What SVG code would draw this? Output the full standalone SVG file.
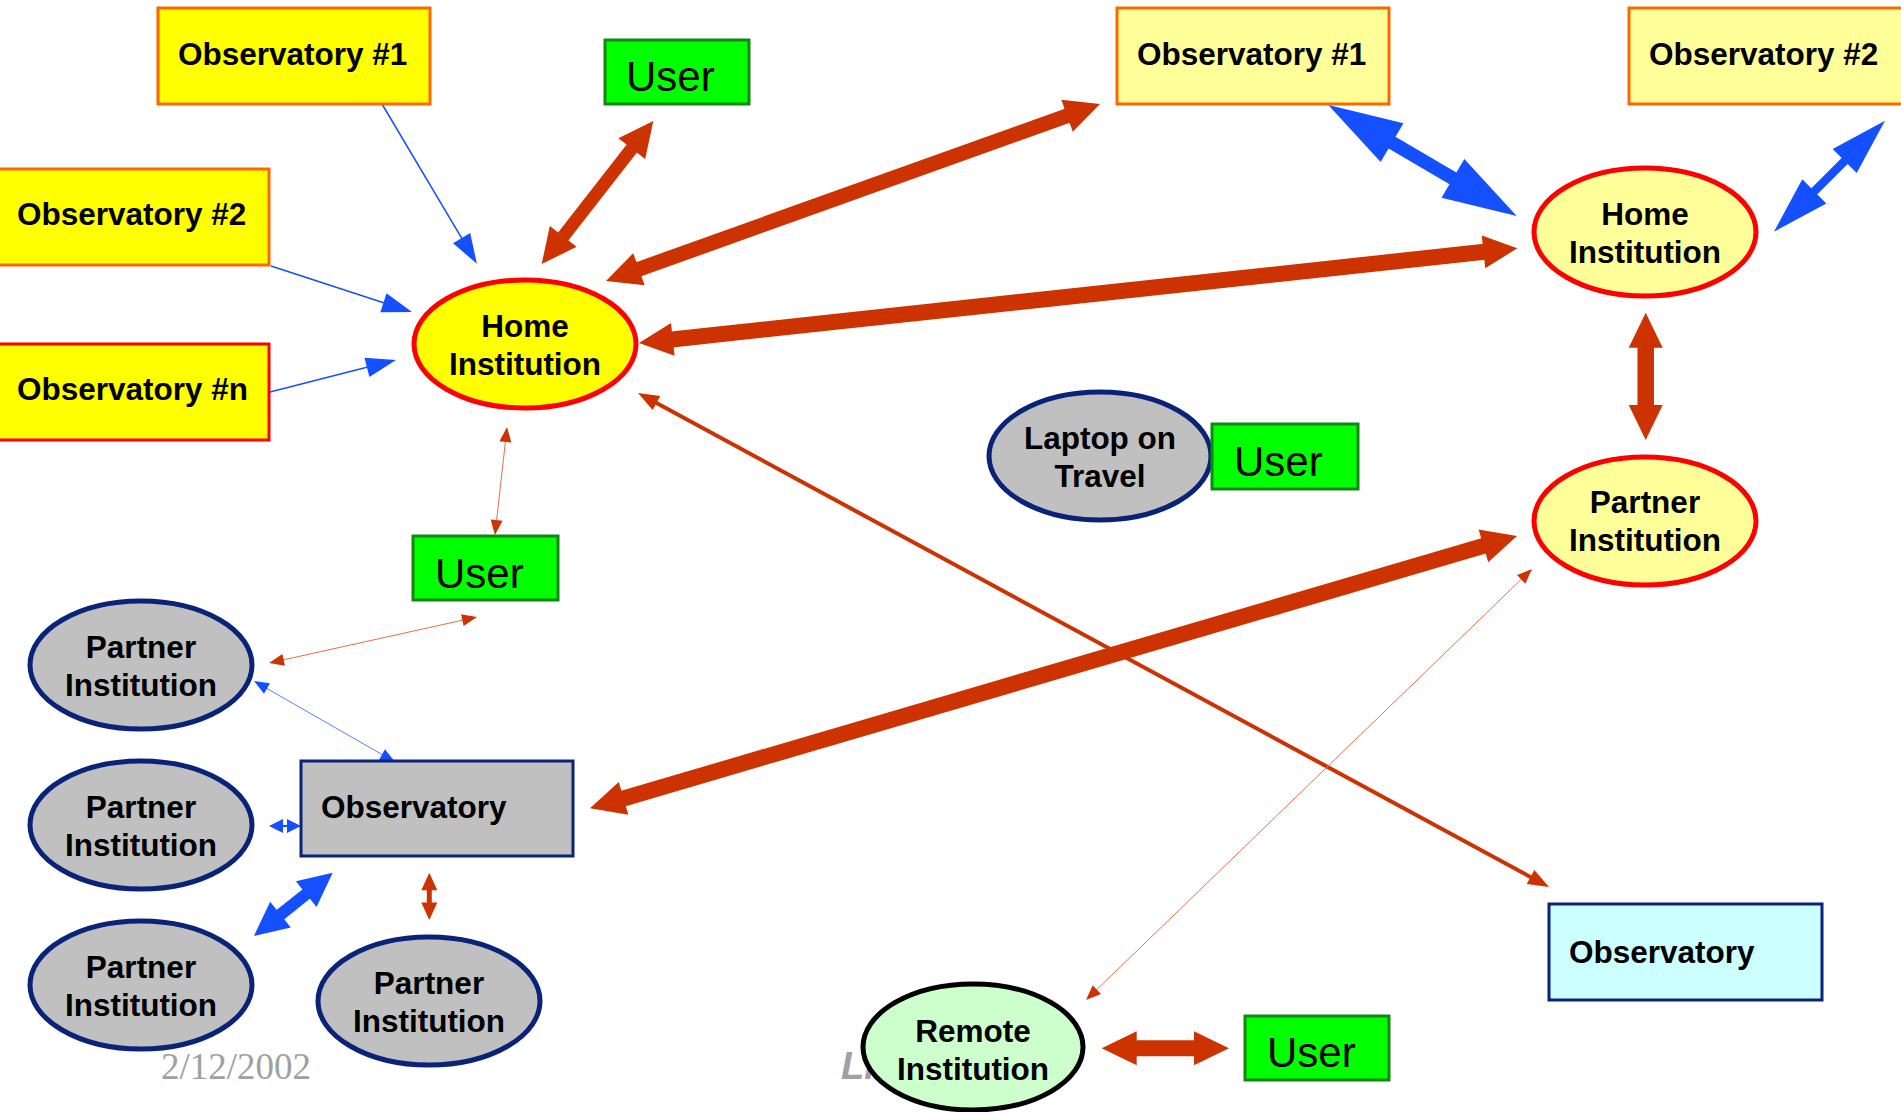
<svg xmlns="http://www.w3.org/2000/svg" width="1901" height="1112" viewBox="0 0 1901 1112">
  <style>
    .lbl { font-family: "Liberation Sans", Arial, sans-serif; font-weight: bold; font-size: 31.5px; fill: #000; }
    .usr { font-family: "Liberation Sans", Arial, sans-serif; font-size: 42px; fill: #000; }
    .obsY { fill: #FFFF00; stroke: #FF6600; stroke-width: 3; }
    .obsL { fill: #FFFF99; stroke: #FF6600; stroke-width: 3; }
    .user { fill: #00FF00; stroke: #118811; stroke-width: 3; }
    .homeY { fill: #FFFF00; stroke: #FF0000; stroke-width: 5; }
    .homeL { fill: #FFFF99; stroke: #FF0000; stroke-width: 5; }
    .grey { fill: #C0C0C0; stroke: #0A2277; stroke-width: 5; }
    .greyR { fill: #C0C0C0; stroke: #0A2277; stroke-width: 3; }
    .red { stroke: #CC3300; fill: none; }
    .redT { stroke: #E8704A; fill: none; }
    .blue { stroke: #1450FF; fill: none; }
    .blueT { stroke: #5A80FF; fill: none; }
  </style>
  <defs>
    <!-- arrowheads: base at the vertex, tip pointing forward -->
    <marker id="bS" markerUnits="userSpaceOnUse" orient="auto-start-reverse" overflow="visible" refX="0" refY="0" markerWidth="1" markerHeight="1"><path d="M-1,-10 L29,0 L-1,10 z" fill="#1450FF"/></marker>
    <marker id="bT" markerUnits="userSpaceOnUse" orient="auto-start-reverse" overflow="visible" refX="0" refY="0" markerWidth="1" markerHeight="1"><path d="M-1,-6 L14,0 L-1,6 z" fill="#1450FF"/></marker>
    <marker id="bT2" markerUnits="userSpaceOnUse" orient="auto-start-reverse" overflow="visible" refX="0" refY="0" markerWidth="1" markerHeight="1"><path d="M0,-7 L14,0 L0,7 z" fill="#1450FF"/></marker>
    <marker id="bL" markerUnits="userSpaceOnUse" orient="auto-start-reverse" overflow="visible" refX="0" refY="0" markerWidth="1" markerHeight="1"><path d="M-1,-16.5 L33,0 L-1,16.5 z" fill="#1450FF"/></marker>
    <marker id="bXL" markerUnits="userSpaceOnUse" orient="auto-start-reverse" overflow="visible" refX="0" refY="0" markerWidth="1" markerHeight="1"><path d="M-1,-22.5 L73,0 L-1,22.5 z" fill="#1450FF"/></marker>
    <marker id="bM" markerUnits="userSpaceOnUse" orient="auto-start-reverse" overflow="visible" refX="0" refY="0" markerWidth="1" markerHeight="1"><path d="M-1,-17 L56,0 L-1,17 z" fill="#1450FF"/></marker>
    <marker id="rT" markerUnits="userSpaceOnUse" orient="auto-start-reverse" overflow="visible" refX="0" refY="0" markerWidth="1" markerHeight="1"><path d="M-1,-6 L14,0 L-1,6 z" fill="#CC3300"/></marker>
    <marker id="rT2" markerUnits="userSpaceOnUse" orient="auto-start-reverse" overflow="visible" refX="0" refY="0" markerWidth="1" markerHeight="1"><path d="M-1,-8 L16.5,0 L-1,8 z" fill="#CC3300"/></marker>
    <marker id="rM" markerUnits="userSpaceOnUse" orient="auto-start-reverse" overflow="visible" refX="0" refY="0" markerWidth="1" markerHeight="1"><path d="M-1,-8 L20,0 L-1,8 z" fill="#CC3300"/></marker>
    <marker id="rL" markerUnits="userSpaceOnUse" orient="auto-start-reverse" overflow="visible" refX="0" refY="0" markerWidth="1" markerHeight="1"><path d="M-1,-17 L34,0 L-1,17 z" fill="#CC3300"/></marker>
    <marker id="rW" markerUnits="userSpaceOnUse" orient="auto-start-reverse" overflow="visible" refX="0" refY="0" markerWidth="1" markerHeight="1"><path d="M-1,-16.5 L33,0 L-1,16.5 z" fill="#CC3300"/></marker>
  </defs>

  <rect width="1901" height="1112" fill="#FFFFFF"/>

  <!-- footer texts, partly hidden by the nodes drawn later -->
  <text x="161" y="1079" font-family="'Liberation Serif', 'Times New Roman', serif" font-size="37" fill="#A0A0A0">2/12/2002</text>
  <text x="841" y="1079" font-family="'Liberation Sans', Arial, sans-serif" font-weight="bold" font-style="italic" font-size="38" fill="#A0A0A0">Li</text>

  <g id="connectors">
    <!-- observatories feeding the home institution -->
    <line class="blue" stroke-width="1.5" x1="382" y1="104" x2="462.1" y2="238.9" marker-end="url(#bS)"/>
    <line class="blue" stroke-width="1.5" x1="271" y1="266" x2="384.4" y2="303" marker-end="url(#bS)"/>
    <line class="blue" stroke-width="1.5" x1="270" y1="392" x2="367.9" y2="367.1" marker-end="url(#bS)"/>
    <!-- home institution links -->
    <line class="red" stroke-width="13" x1="632.4" y1="147.8" x2="562.6" y2="237.2" marker-start="url(#rL)" marker-end="url(#rL)"/>
    <line class="red" stroke-width="15" x1="638" y1="269.5" x2="1068" y2="115.5" marker-start="url(#rL)" marker-end="url(#rL)"/>
    <line class="red" stroke-width="16" x1="671.8" y1="339.5" x2="1484.5" y2="251.8" marker-start="url(#rW)" marker-end="url(#rW)"/>
    <line class="red" stroke-width="4" x1="655.6" y1="402.5" x2="1531.4" y2="877.5" marker-start="url(#rM)" marker-end="url(#rM)"/>
    <line class="redT" stroke-width="1" x1="505.5" y1="440.9" x2="496.5" y2="521.1" marker-start="url(#rT)" marker-end="url(#rT)"/>
    <line class="redT" stroke-width="1" x1="463.3" y1="620" x2="282.7" y2="660" marker-start="url(#rT)" marker-end="url(#rT)"/>
    <!-- observatory and its partner institutions -->
    <line class="blueT" stroke-width="1" x1="266.1" y1="688" x2="382.9" y2="755" marker-start="url(#bT)" marker-end="url(#bT)"/>
    <line class="blue" stroke-width="2" x1="283" y1="826" x2="287" y2="826" marker-start="url(#bT2)" marker-end="url(#bT2)"/>
    <line class="blue" stroke-width="12" x1="279.7" y1="915.3" x2="307" y2="893.4" marker-start="url(#bL)" marker-end="url(#bL)"/>
    <line class="red" stroke-width="5" x1="429.3" y1="889.2" x2="429.3" y2="903.5" marker-start="url(#rT2)" marker-end="url(#rT2)"/>
    <line class="red" stroke-width="16" x1="622.6" y1="798.7" x2="1484.4" y2="545.6" marker-start="url(#rL)" marker-end="url(#rL)"/>
    <!-- remote side -->
    <line class="redT" stroke-width="1" x1="1521.9" y1="578.7" x2="1096.1" y2="990.3" marker-start="url(#rT)" marker-end="url(#rT)"/>
    <line class="red" stroke-width="16" x1="1135.7" y1="1048.3" x2="1195" y2="1048.3" marker-start="url(#rL)" marker-end="url(#rL)"/>
    <!-- second home institution -->
    <line class="blue" stroke-width="13.5" x1="1391.2" y1="142.1" x2="1453.8" y2="178.9" marker-start="url(#bXL)" marker-end="url(#bXL)"/>
    <line class="blue" stroke-width="8.5" x1="1845.4" y1="160.3" x2="1813.6" y2="192.1" marker-start="url(#bM)" marker-end="url(#bM)"/>
    <line class="red" stroke-width="16.5" x1="1645.7" y1="346.7" x2="1645.7" y2="406" marker-start="url(#rL)" marker-end="url(#rL)"/>
  </g>

  <!-- left cluster -->
  <g id="obs1-left"><rect class="obsY" x="158" y="8" width="272" height="96"/><text class="lbl" x="178" y="65">Observatory #1</text></g>
  <g id="obs2-left"><rect class="obsY" x="-3" y="169" width="272" height="96"/><text class="lbl" x="17" y="225">Observatory #2</text></g>
  <g id="obsn-left"><rect x="-3" y="344" width="272" height="96" fill="#FFFF00" stroke="#FF0000" stroke-width="3"/><text class="lbl" x="17" y="400">Observatory #n</text></g>
  <g id="user-top"><rect class="user" x="605" y="40" width="144" height="64"/><text class="usr" x="626" y="91">User</text></g>
  <g id="home-left"><ellipse class="homeY" cx="525" cy="344" rx="111" ry="64"/><text class="lbl" text-anchor="middle" x="525" y="337">Home</text><text class="lbl" text-anchor="middle" x="525" y="375">Institution</text></g>
  <g id="user-mid"><rect class="user" x="413" y="536" width="145" height="64"/><text class="usr" x="435" y="588">User</text></g>
  <g id="partner-1"><ellipse class="grey" cx="141" cy="665" rx="111" ry="64"/><text class="lbl" text-anchor="middle" x="141" y="658">Partner</text><text class="lbl" text-anchor="middle" x="141" y="696">Institution</text></g>
  <g id="partner-2"><ellipse class="grey" cx="141" cy="825" rx="111" ry="64"/><text class="lbl" text-anchor="middle" x="141" y="818">Partner</text><text class="lbl" text-anchor="middle" x="141" y="856">Institution</text></g>
  <g id="partner-3"><ellipse class="grey" cx="141" cy="985" rx="111" ry="64"/><text class="lbl" text-anchor="middle" x="141" y="978">Partner</text><text class="lbl" text-anchor="middle" x="141" y="1016">Institution</text></g>
  <g id="partner-4"><ellipse class="grey" cx="429" cy="1001" rx="111" ry="64"/><text class="lbl" text-anchor="middle" x="429" y="994">Partner</text><text class="lbl" text-anchor="middle" x="429" y="1032">Institution</text></g>
  <g id="observatory-grey"><rect class="greyR" x="301" y="761" width="272" height="95"/><text class="lbl" x="321" y="818">Observatory</text></g>

  <!-- right cluster -->
  <g id="obs1-right"><rect class="obsL" x="1117" y="8" width="272" height="96"/><text class="lbl" x="1137" y="65">Observatory #1</text></g>
  <g id="obs2-right"><rect class="obsL" x="1629" y="8" width="280" height="96"/><text class="lbl" x="1649" y="65">Observatory #2</text></g>
  <g id="home-right"><ellipse class="homeL" cx="1645" cy="232" rx="111" ry="64"/><text class="lbl" text-anchor="middle" x="1645" y="225">Home</text><text class="lbl" text-anchor="middle" x="1645" y="263">Institution</text></g>
  <g id="partner-right"><ellipse class="homeL" cx="1645" cy="521" rx="111" ry="64"/><text class="lbl" text-anchor="middle" x="1645" y="513">Partner</text><text class="lbl" text-anchor="middle" x="1645" y="551">Institution</text></g>
  <g id="laptop"><ellipse class="grey" cx="1100" cy="456" rx="111" ry="64"/><text class="lbl" text-anchor="middle" x="1100" y="449">Laptop on</text><text class="lbl" text-anchor="middle" x="1100" y="487">Travel</text></g>
  <g id="user-laptop"><rect class="user" x="1212" y="424" width="146" height="65"/><text class="usr" x="1234" y="476">User</text></g>
  <g id="observatory-cyan"><rect x="1549" y="904" width="273" height="96" fill="#CCFFFF" stroke="#0A2277" stroke-width="3"/><text class="lbl" x="1569" y="963">Observatory</text></g>
  <g id="remote"><ellipse cx="973" cy="1047" rx="110" ry="63" fill="#CCFFCC" stroke="#000000" stroke-width="5"/><text class="lbl" text-anchor="middle" x="973" y="1042">Remote</text><text class="lbl" text-anchor="middle" x="973" y="1080">Institution</text></g>
  <g id="user-bottom"><rect class="user" x="1245" y="1016" width="144" height="64"/><text class="usr" x="1267" y="1067">User</text></g>
</svg>
